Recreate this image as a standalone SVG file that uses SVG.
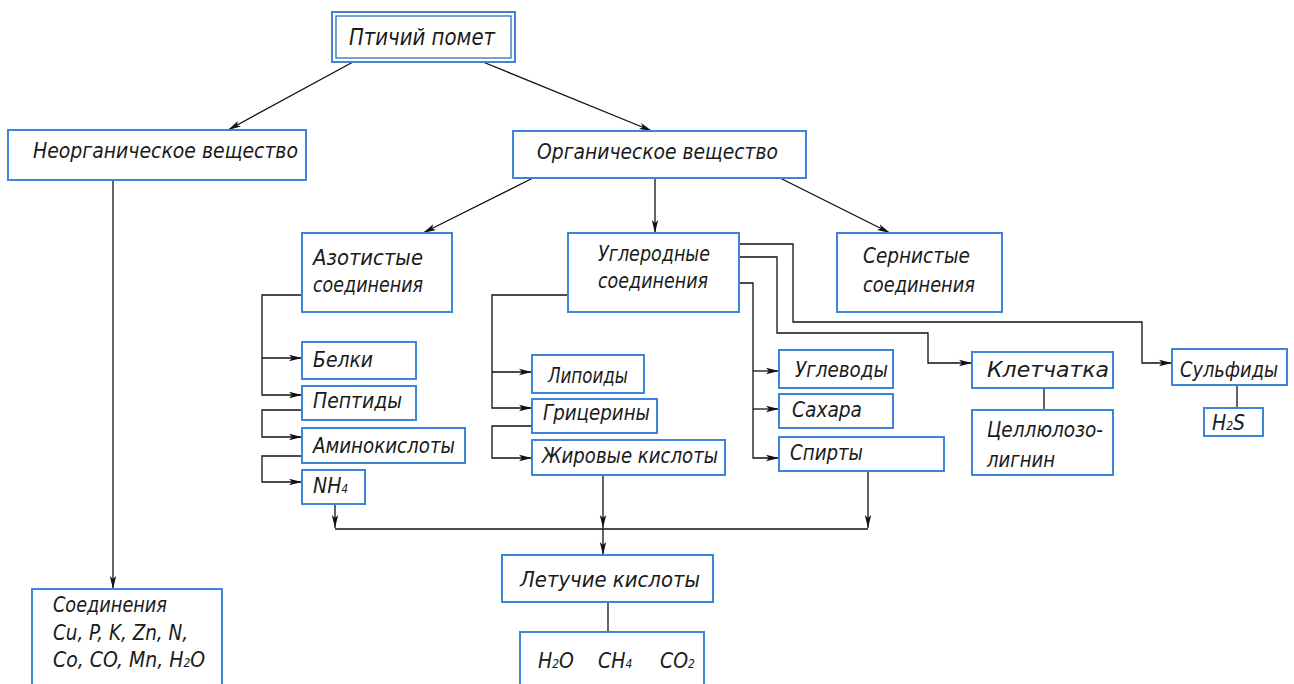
<svg xmlns="http://www.w3.org/2000/svg" width="1294" height="684" viewBox="0 0 1294 684">
<defs>
<marker id="arr" markerUnits="userSpaceOnUse" markerWidth="14" markerHeight="8" refX="13" refY="4" orient="auto">
<path d="M0,0.8 L13,4 L0,7.2 L3,4 z" fill="#111"/>
</marker>
<style>
.box{fill:#fff;stroke:#3d85d8;stroke-width:2}
.in{fill:none;stroke:#2a5fa8;stroke-width:1.2}
.t{font-family:"Liberation Sans Narrow","DejaVu Sans Condensed","Liberation Sans",sans-serif;font-style:italic;font-size:21px;fill:#1a1a1a}
.c{fill:none;stroke:#111;stroke-width:1.3}
.a{marker-end:url(#arr)}
</style>
</defs>
<rect width="1294" height="684" fill="#fff"/>
<g id="connectors">
<path class="c a" d="M353,62 L228,130"/>
<path class="c a" d="M483,62 L652,131"/>
<path class="c a" d="M533,178 L423,233"/>
<path class="c a" d="M655,178 L655,233"/>
<path class="c a" d="M780,178 L890,233"/>
<path class="c a" d="M113,181 L113,589"/>
<path class="c a" d="M302,295 H262 V395 H302"/>
<path class="c a" d="M262,358 H302"/>
<path class="c a" d="M302,410 H262 V437 H302"/>
<path class="c a" d="M302,456 H262 V482 H302"/>
<path class="c a" d="M335,504 V528"/>
<path class="c" d="M335,529 H868"/>
<path class="c a" d="M603,475 V528"/>
<path class="c a" d="M603,529 V555"/>
<path class="c a" d="M868,471 V528"/>
<path class="c a" d="M568,295 H492 V408 H532"/>
<path class="c a" d="M492,372 H532"/>
<path class="c a" d="M532,426 H492 V458 H532"/>
<path class="c a" d="M739,283 H753 V458 H779"/>
<path class="c a" d="M753,371 H779"/>
<path class="c a" d="M753,409 H779"/>
<path class="c a" d="M739,257 H777 V333 H928 V363 H972"/>
<path class="c a" d="M739,244 H793 V322 H1142 V363 H1172"/>
<path class="c" d="M608,602 V632"/>
<path class="c" d="M1044,388 V410"/>
<path class="c" d="M1237,385 V408"/>
</g>
<g id="n-ptichiy">
<rect class="box" x="332" y="12" width="183" height="50"/>
<rect class="in" x="336" y="16" width="175" height="42"/>
<text class="t" x="349" y="45" textLength="146" lengthAdjust="spacingAndGlyphs" style="font-size:23px">Птичий помет</text>
</g>
<g id="n-neorg">
<rect class="box" x="8" y="130" width="298" height="50"/>
<text class="t" x="33" y="158" textLength="265" lengthAdjust="spacingAndGlyphs">Неорганическое вещество</text>
</g>
<g id="n-org">
<rect class="box" x="513" y="131" width="293" height="47"/>
<text class="t" x="537" y="159" textLength="241" lengthAdjust="spacingAndGlyphs">Органическое вещество</text>
</g>
<g id="n-azot">
<rect class="box" x="302" y="233" width="150" height="79"/>
<text class="t" x="313" y="265" textLength="110" lengthAdjust="spacingAndGlyphs">Азотистые</text>
<text class="t" x="313" y="292" textLength="110" lengthAdjust="spacingAndGlyphs">соединения</text>
</g>
<g id="n-uglerod">
<rect class="box" x="568" y="233" width="171" height="79"/>
<text class="t" x="598" y="261" textLength="112" lengthAdjust="spacingAndGlyphs">Углеродные</text>
<text class="t" x="598" y="288" textLength="110" lengthAdjust="spacingAndGlyphs">соединения</text>
</g>
<g id="n-sern">
<rect class="box" x="837" y="233" width="165" height="79"/>
<text class="t" x="863" y="263" textLength="107" lengthAdjust="spacingAndGlyphs">Сернистые</text>
<text class="t" x="863" y="292" textLength="112" lengthAdjust="spacingAndGlyphs">соединения</text>
</g>
<g id="n-belki">
<rect class="box" x="302" y="342" width="114" height="37"/>
<text class="t" x="313" y="367" textLength="60" lengthAdjust="spacingAndGlyphs">Белки</text>
</g>
<g id="n-peptidy">
<rect class="box" x="302" y="386" width="114" height="34"/>
<text class="t" x="313" y="408" textLength="89" lengthAdjust="spacingAndGlyphs">Пептиды</text>
</g>
<g id="n-amino">
<rect class="box" x="302" y="428" width="163" height="35"/>
<text class="t" x="313" y="453" textLength="142" lengthAdjust="spacingAndGlyphs">Аминокислоты</text>
</g>
<g id="n-nh4">
<rect class="box" x="302" y="470" width="63" height="34"/>
<text class="t" x="313" y="493">NH<tspan style="font-size:12px">4</tspan></text>
</g>
<g id="n-lipoidy">
<rect class="box" x="532" y="355" width="112" height="38"/>
<text class="t" x="548" y="383" textLength="80" lengthAdjust="spacingAndGlyphs">Липоиды</text>
</g>
<g id="n-glicer">
<rect class="box" x="532" y="399" width="125" height="34"/>
<text class="t" x="543" y="420" textLength="107" lengthAdjust="spacingAndGlyphs">Грицерины</text>
</g>
<g id="n-zhir">
<rect class="box" x="532" y="440" width="193" height="35"/>
<text class="t" x="542" y="463" textLength="176" lengthAdjust="spacingAndGlyphs">Жировые кислоты</text>
</g>
<g id="n-uglevody">
<rect class="box" x="779" y="350" width="114" height="38"/>
<text class="t" x="795" y="377" textLength="93" lengthAdjust="spacingAndGlyphs">Углеводы</text>
</g>
<g id="n-sahara">
<rect class="box" x="779" y="394" width="114" height="34"/>
<text class="t" x="792" y="417" textLength="70" lengthAdjust="spacingAndGlyphs">Сахара</text>
</g>
<g id="n-spirty">
<rect class="box" x="779" y="437" width="165" height="34"/>
<text class="t" x="790" y="460" textLength="73" lengthAdjust="spacingAndGlyphs">Спирты</text>
</g>
<g id="n-kletch">
<rect class="box" x="972" y="352" width="141" height="36"/>
<text class="t" x="987" y="377" textLength="122" lengthAdjust="spacingAndGlyphs">Клетчатка</text>
</g>
<g id="n-cellul">
<rect class="box" x="972" y="410" width="141" height="65"/>
<text class="t" x="987" y="437" textLength="116" lengthAdjust="spacingAndGlyphs">Целлюлозо-</text>
<text class="t" x="987" y="467" textLength="68" lengthAdjust="spacingAndGlyphs">лигнин</text>
</g>
<g id="n-sulf">
<rect class="box" x="1172" y="349" width="115" height="36"/>
<text class="t" x="1180" y="377" textLength="98" lengthAdjust="spacingAndGlyphs">Сульфиды</text>
</g>
<g id="n-h2s">
<rect class="box" x="1204" y="408" width="59" height="28"/>
<text class="t" x="1212" y="430">H<tspan style="font-size:12px">2</tspan>S</text>
</g>
<g id="n-soed">
<rect class="box" x="32" y="589" width="190" height="100"/>
<text class="t" x="53" y="612" textLength="114" lengthAdjust="spacingAndGlyphs">Соединения</text>
<text class="t" x="53" y="640" textLength="135" lengthAdjust="spacingAndGlyphs">Cu, P, K, Zn, N,</text>
<text class="t" x="53" y="667">Co, CO, Mn, H<tspan style="font-size:12px">2</tspan>O</text>
</g>
<g id="n-letuch">
<rect class="box" x="502" y="555" width="211" height="47"/>
<text class="t" x="520" y="587" textLength="180" lengthAdjust="spacingAndGlyphs">Летучие кислоты</text>
</g>
<g id="n-gases">
<rect class="box" x="520" y="632" width="184" height="60"/>
<text class="t" x="538" y="668">H<tspan style="font-size:12px">2</tspan>O</text>
<text class="t" x="598" y="668">CH<tspan style="font-size:12px">4</tspan></text>
<text class="t" x="660" y="668">CO<tspan style="font-size:12px">2</tspan></text>
</g>
</svg>
